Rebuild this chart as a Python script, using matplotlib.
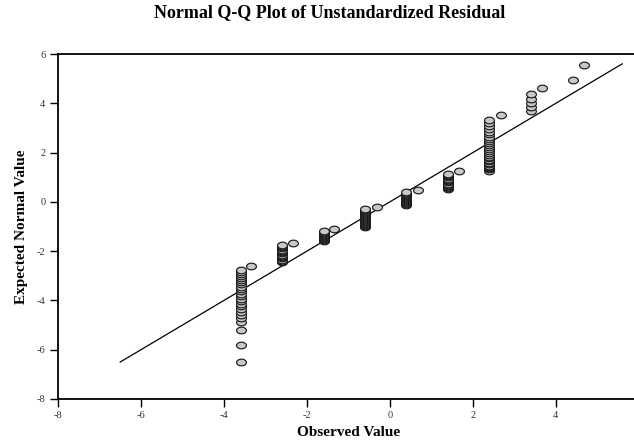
import numpy as np
import matplotlib
matplotlib.use("Agg")
import matplotlib.pyplot as plt
from matplotlib.path import Path

# observed residual values (one per tied group) and their expected normal values
obs_groups = [-3.6, -3.35, -2.6, -2.33, -1.6, -1.35, -0.6, -0.32,
              0.4, 0.67, 1.4, 1.66, 2.4, 2.67, 3.4, 3.67, 4.41, 4.67]
expected_groups = [
    [-6.49, -5.81, -5.20, -4.87, -4.72, -4.58, -4.46, -4.35, -4.24, -4.13,
     -4.03, -3.93, -3.83, -3.73, -3.63, -3.53, -3.44, -3.35, -3.26, -3.17,
     -3.08, -3.00, -2.92, -2.85, -2.78],
    [-2.61],
    [-2.44, -2.39, -2.34, -2.29, -2.24, -2.19, -2.14, -2.09, -2.04, -1.99,
     -1.94, -1.89, -1.84, -1.80, -1.77],
    [-1.66],
    [-1.60, -1.55, -1.51, -1.47, -1.43, -1.39, -1.35, -1.31, -1.27, -1.23,
     -1.20],
    [-1.10],
    [-1.00, -0.96, -0.92, -0.88, -0.84, -0.80, -0.76, -0.72, -0.68, -0.64,
     -0.60, -0.56, -0.52, -0.48, -0.44, -0.40, -0.36, -0.32, -0.28],
    [-0.19],
    [-0.12, -0.08, -0.04, 0.00, 0.04, 0.08, 0.12, 0.16, 0.20, 0.24, 0.28,
     0.32, 0.36, 0.42],
    [0.49],
    [0.53, 0.57, 0.61, 0.65, 0.70, 0.74, 0.79, 0.84, 0.89, 0.94, 0.99, 1.04,
     1.09, 1.14],
    [1.24],
    [1.27, 1.32, 1.37, 1.42, 1.47, 1.53, 1.59, 1.65, 1.71, 1.77, 1.84, 1.91,
     1.98, 2.05, 2.13, 2.21, 2.29, 2.37, 2.46, 2.55, 2.64, 2.74, 2.84, 2.95,
     3.06, 3.19, 3.32],
    [3.53],
    [3.70, 3.85, 4.00, 4.17, 4.38],
    [4.64],
    [4.94],
    [5.56],
]
line_ends = [-6.5, 5.6]
x_ticks = [-8, -6, -4, -2, 0, 2, 4]
y_ticks = [-8, -6, -4, -2, 0, 2, 4, 6]

plt.rcParams["axes.unicode_minus"] = False
serif = ["Liberation Serif", "DejaVu Serif"]

# flat oval marker like the SPSS output
t = np.linspace(0, 2 * np.pi, 41)
oval = Path(np.column_stack([np.cos(t), 0.68 * np.sin(t)]), closed=True)

fig = plt.figure(figsize=(6.34, 4.41), dpi=100)
W, H = 634.0, 441.0
left, right, top, bottom = 58, 638.8, 54, 399
ax = fig.add_axes([left / W, (H - bottom) / H, (right - left) / W, (bottom - top) / H])

ax.plot(line_ends, line_ends, color="black", lw=0.9, zorder=2)

for xv, ys in zip(obs_groups, expected_groups):
    ax.scatter([xv] * len(ys), ys, marker=oval, s=50, facecolor="#c8c8c8",
               edgecolor="#1a1a1a", linewidths=0.85, zorder=3)

ax.set_xlim(-8, 6)
ax.set_ylim(-8, 6)
ax.set_xticks(x_ticks)
ax.set_yticks(y_ticks)
ax.tick_params(direction="out", length=6, width=1, color="black",
               labelsize=7.5, labelcolor="#333333", pad=3)
for lab in ax.get_xticklabels() + ax.get_yticklabels():
    lab.set_family(serif)
for sp in ax.spines.values():
    sp.set_linewidth(1.3)

ax.set_xlabel("Observed Value", family=serif, fontsize=11, fontweight="bold",
              labelpad=4)
ax.set_ylabel("Expected Normal Value", family=serif, fontsize=11,
              fontweight="bold", labelpad=6)
fig.text(330 / W, 1 - 13 / H, "Normal Q-Q Plot of Unstandardized Residual",
         family=serif, fontsize=13, fontweight="bold", ha="center", va="center")

fig.savefig("out.png", dpi=100)
